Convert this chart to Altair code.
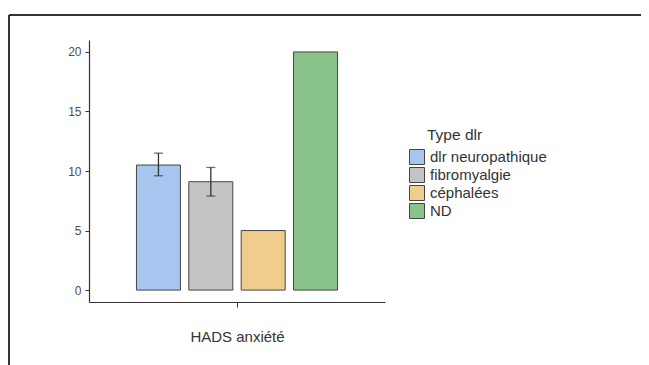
import altair as alt
import pandas as pd

types = ["dlr neuropathique", "fibromyalgie", "céphalées", "ND"]
measure = ["HADS anxiété", "HADS anxiété", "HADS anxiété", "HADS anxiété"]
means = [10.5, 9.1, 5.0, 20.0]
err_low = [9.6, 7.9, None, None]
err_high = [11.5, 10.3, None, None]
colors = ["#a6c6f0", "#c4c4c4", "#f0cd8c", "#88c48a"]
legend_title = ["Type dlr"]

df = pd.DataFrame({"measure": measure, "type": types, "mean": means,
                   "lo": err_low, "hi": err_high})
err_df = df.dropna()

x_enc = alt.X("measure:N",
              scale=alt.Scale(paddingInner=0, paddingOuter=0.236),
              axis=alt.Axis(labels=False, title="HADS anxiété", titlePadding=22,
                            titleFontSize=15, titleFontWeight="normal", titleColor="#333333",
                            tickSize=5, tickColor="#333333", domainColor="#333333",
                            domainWidth=1.2))
xo_enc = alt.XOffset("type:N", sort=types,
                     scale=alt.Scale(paddingInner=0.16, paddingOuter=0))
y_scale = alt.Scale(domain=[-1, 21], nice=False, zero=False)

bars = alt.Chart(df).mark_bar(stroke="#444444", strokeWidth=1).encode(
    x=x_enc,
    xOffset=xo_enc,
    y=alt.Y("mean:Q", scale=y_scale,
            axis=alt.Axis(values=[0, 5, 10, 15, 20], title=None, grid=False,
                          labelFontSize=12, labelColor="#4d4d4d", tickSize=4,
                          tickColor="#333333", domainColor="#333333", domainWidth=1.2,
                          labelPadding=4)),
    y2=alt.datum(0),
    color=alt.Color("type:N", sort=types,
                    scale=alt.Scale(domain=types, range=colors),
                    legend=alt.Legend(title=None, orient="none",
                                      legendX=320, legendY=109, symbolType="square",
                                      symbolSize=225, symbolStrokeColor="#444444",
                                      symbolStrokeWidth=1, symbolOpacity=1, labelFontSize=15,
                                      labelColor="#333333", labelOffset=5, rowPadding=-4)),
)

rules = alt.Chart(err_df).mark_rule(color="#333333", strokeWidth=1.3).encode(
    x=x_enc, xOffset=xo_enc,
    y=alt.Y("lo:Q", scale=y_scale), y2="hi:Q",
)
cap_lo = alt.Chart(err_df).mark_tick(color="#333333", thickness=1.3, size=9).encode(
    x=x_enc, xOffset=xo_enc, y=alt.Y("lo:Q", scale=y_scale),
)
cap_hi = alt.Chart(err_df).mark_tick(color="#333333", thickness=1.3, size=9).encode(
    x=x_enc, xOffset=xo_enc, y=alt.Y("hi:Q", scale=y_scale),
)

title_text = alt.Chart(pd.DataFrame({"t": legend_title})).mark_text(
    align="left", baseline="middle", fontSize=15.5, color="#333333"
).encode(x=alt.value(338), y=alt.value(95), text="t:N")

frame_df = pd.DataFrame({"k": [0]})
frame_top = alt.Chart(frame_df).mark_rule(color="#333333", strokeWidth=2).encode(
    x=alt.value(-80), x2=alt.value(600), y=alt.value(-25))
frame_left = alt.Chart(frame_df).mark_rule(color="#333333", strokeWidth=2).encode(
    x=alt.value(-80), y=alt.value(-25), y2=alt.value(330))

chart = alt.layer(bars, rules, cap_lo, cap_hi, title_text, frame_top, frame_left).properties(
    width=296, height=262,
    autosize=alt.AutoSizeParams(type="none"),
    padding={"left": 81, "top": 32, "right": 256, "bottom": 63},
).configure(font="Liberation Sans").configure_view(stroke=None)

chart.save("out.html", embed_options={"renderer": "svg", "actions": False})
